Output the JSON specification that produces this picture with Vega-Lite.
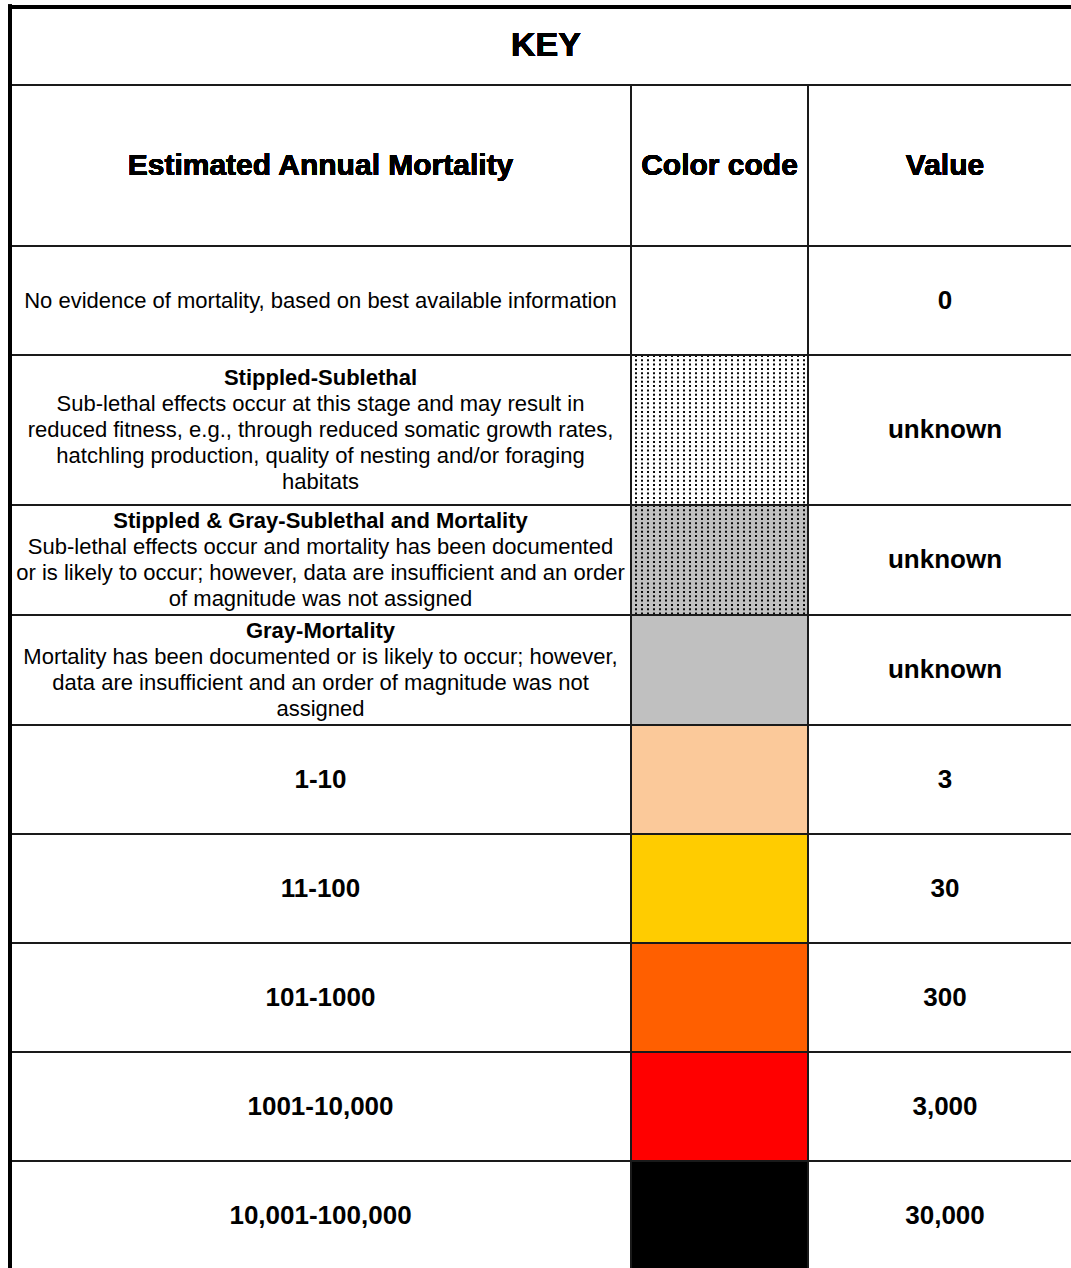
{
  "$schema": "https://vega.github.io/schema/vega-lite/v6.json",
  "width": 1071,
  "height": 1268,
  "autosize": {"type": "fit", "contains": "padding"},
  "padding": 0,
  "background": "white",
  "config": {"view": {"stroke": null}, "font": "Liberation Sans"},
  "datasets": {
    "rows": [
      {"r0": 2, "r1": 3, "rm": 2.5, "lines": 1, "code": "none", "title": "", "desc": "No evidence of mortality, based on best available information", "range": "", "value": "0"},
      {"r0": 3, "r1": 4, "rm": 3.5, "lines": 5, "code": "stippled", "title": "Stippled-Sublethal\n\n\n\n", "desc": "\nSub-lethal effects occur at this stage and may result in\nreduced fitness, e.g., through reduced somatic growth rates,\nhatchling production, quality of nesting and/or foraging\nhabitats", "range": "", "value": "unknown"},
      {"r0": 4, "r1": 5, "rm": 4.5, "lines": 4, "code": "stippled+gray", "title": "Stippled & Gray-Sublethal and Mortality\n\n\n", "desc": "\nSub-lethal effects occur and mortality has been documented\nor is likely to occur; however, data are insufficient and an order\nof magnitude was not assigned", "range": "", "value": "unknown"},
      {"r0": 5, "r1": 6, "rm": 5.5, "lines": 4, "code": "gray", "title": "Gray-Mortality\n\n\n", "desc": "\nMortality has been documented or is likely to occur; however,\ndata are insufficient and an order of magnitude was not\nassigned", "range": "", "value": "unknown"},
      {"r0": 6, "r1": 7, "rm": 6.5, "lines": 1, "code": "1-10", "title": "", "desc": "", "range": "1-10", "value": "3"},
      {"r0": 7, "r1": 8, "rm": 7.5, "lines": 1, "code": "11-100", "title": "", "desc": "", "range": "11-100", "value": "30"},
      {"r0": 8, "r1": 9, "rm": 8.5, "lines": 1, "code": "101-1000", "title": "", "desc": "", "range": "101-1000", "value": "300"},
      {"r0": 9, "r1": 10, "rm": 9.5, "lines": 1, "code": "1001-10,000", "title": "", "desc": "", "range": "1001-10,000", "value": "3,000"},
      {"r0": 10, "r1": 11, "rm": 10.5, "lines": 1, "code": "10,001-100,000", "title": "", "desc": "", "range": "10,001-100,000", "value": "30,000"}
    ]
  },
  "data": {"name": "rows"},
  "resolve": {"scale": {"x": "independent"}},
  "layer": [
    {
      "mark": {"type": "rect", "strokeWidth": 0},
      "encoding": {
        "x": {"datum": 1, "type": "quantitative", "axis": null, "scale": {"type": "linear", "domain": [0, 1, 2, 3], "range": [10, 631, 808, 1082], "nice": false, "zero": false}},
        "x2": {"datum": 2},
        "y": {"field": "r0", "type": "quantitative", "axis": null, "scale": {"type": "linear", "domain": [0, 1, 2, 3, 4, 5, 6, 7, 8, 9, 10, 11], "range": [7, 85, 246, 355, 505, 615, 725, 834, 943, 1052, 1161, 1270], "nice": false, "zero": false}},
        "y2": {"field": "r1"},
        "color": {"field": "code", "type": "nominal", "legend": null, "scale": {"domain": ["none", "stippled", "stippled+gray", "gray", "1-10", "11-100", "101-1000", "1001-10,000", "10,001-100,000"], "range": ["#ffffff", "#ffffff", "#c0c0c0", "#c0c0c0", "#fbc99a", "#ffcc00", "#ff5f00", "#ff0000", "#000000"]}}
      }
    },
    {
      "transform": [{"filter": "datum.code == 'stippled' || datum.code == 'stippled+gray'"}],
      "mark": {"type": "rule", "stroke": "#0a0a0a", "strokeWidth": 177, "strokeDash": [2, 2.3], "strokeCap": "butt"},
      "encoding": {
        "x": {"datum": 1.5, "type": "quantitative", "axis": null, "scale": {"type": "linear", "domain": [0, 1, 2, 3], "range": [10, 631, 808, 1082], "nice": false, "zero": false}},
        "y": {"field": "r0", "type": "quantitative", "axis": null},
        "y2": {"field": "r1"}
      }
    },
    {
      "transform": [{"filter": "datum.code == 'stippled'"}],
      "mark": {"type": "rule", "stroke": "#ffffff", "strokeWidth": 150, "strokeDash": [4, 2], "strokeCap": "butt"},
      "encoding": {
        "x": {"datum": 1, "type": "quantitative", "axis": null, "scale": {"type": "linear", "domain": [0, 1, 2, 3], "range": [10, 631, 808, 1082], "nice": false, "zero": false}},
        "x2": {"datum": 2},
        "y": {"field": "rm", "type": "quantitative", "axis": null}
      }
    },
    {
      "transform": [{"filter": "datum.code == 'stippled+gray'"}],
      "mark": {"type": "rule", "stroke": "#c0c0c0", "strokeWidth": 110, "strokeDash": [4, 2], "strokeCap": "butt"},
      "encoding": {
        "x": {"datum": 1, "type": "quantitative", "axis": null, "scale": {"type": "linear", "domain": [0, 1, 2, 3], "range": [10, 631, 808, 1082], "nice": false, "zero": false}},
        "x2": {"datum": 2},
        "y": {"field": "rm", "type": "quantitative", "axis": null}
      }
    },
    {
      "mark": {"type": "rule", "stroke": "#1a1a1a", "strokeWidth": 2},
      "encoding": {
        "x": {"datum": 0, "type": "quantitative", "axis": null, "scale": {"type": "linear", "domain": [0, 1, 2, 3], "range": [10, 631, 808, 1082], "nice": false, "zero": false}},
        "x2": {"datum": 3},
        "y": {"field": "r0", "type": "quantitative", "axis": null}
      }
    },
    {
      "mark": {"type": "rule", "stroke": "#1a1a1a", "strokeWidth": 2},
      "encoding": {
        "x": {"datum": 0, "type": "quantitative", "axis": null, "scale": {"type": "linear", "domain": [0, 1, 2, 3], "range": [10, 631, 808, 1082], "nice": false, "zero": false}},
        "x2": {"datum": 3},
        "y": {"datum": 1, "type": "quantitative", "axis": null}
      }
    },
    {
      "mark": {"type": "rule", "stroke": "#1a1a1a", "strokeWidth": 2},
      "encoding": {
        "x": {"datum": 1, "type": "quantitative", "axis": null, "scale": {"type": "linear", "domain": [0, 1, 2, 3], "range": [10, 631, 808, 1082], "nice": false, "zero": false}},
        "y": {"datum": 1, "type": "quantitative", "axis": null},
        "y2": {"datum": 11}
      }
    },
    {
      "mark": {"type": "rule", "stroke": "#1a1a1a", "strokeWidth": 2},
      "encoding": {
        "x": {"datum": 2, "type": "quantitative", "axis": null, "scale": {"type": "linear", "domain": [0, 1, 2, 3], "range": [10, 631, 808, 1082], "nice": false, "zero": false}},
        "y": {"datum": 1, "type": "quantitative", "axis": null},
        "y2": {"datum": 11}
      }
    },
    {
      "mark": {"type": "rule", "stroke": "#000000", "strokeWidth": 4},
      "encoding": {
        "x": {"datum": 0, "type": "quantitative", "axis": null, "scale": {"type": "linear", "domain": [0, 1, 2, 3], "range": [10, 631, 808, 1082], "nice": false, "zero": false}},
        "x2": {"datum": 3},
        "y": {"datum": 0, "type": "quantitative", "axis": null}
      }
    },
    {
      "mark": {"type": "rule", "stroke": "#000000", "strokeWidth": 4},
      "encoding": {
        "x": {"datum": 0, "type": "quantitative", "axis": null, "scale": {"type": "linear", "domain": [0, 1, 2, 3], "range": [10, 631, 808, 1082], "nice": false, "zero": false}},
        "y": {"datum": -0.03, "type": "quantitative", "axis": null},
        "y2": {"datum": 11}
      }
    },
    {
      "mark": {"type": "text", "text": "KEY", "fontSize": 34, "fontWeight": "bold", "align": "center", "baseline": "middle", "color": "#000000"},
      "encoding": {
        "x": {"datum": 0.5, "type": "quantitative", "axis": null, "scale": {"type": "linear", "domain": [0, 1], "range": [10, 1082], "nice": false, "zero": false}},
        "y": {"datum": 0.5, "type": "quantitative", "axis": null}
      }
    },
    {
      "mark": {"type": "text", "text": "Estimated Annual Mortality", "fontSize": 30, "fontWeight": "bold", "align": "center", "baseline": "middle", "color": "#000000"},
      "encoding": {
        "x": {"datum": 0.5, "type": "quantitative", "axis": null, "scale": {"type": "linear", "domain": [0, 1, 2, 3], "range": [10, 631, 808, 1082], "nice": false, "zero": false}},
        "y": {"datum": 1.5, "type": "quantitative", "axis": null}
      }
    },
    {
      "mark": {"type": "text", "text": "Color code", "fontSize": 30, "fontWeight": "bold", "align": "center", "baseline": "middle", "color": "#000000"},
      "encoding": {
        "x": {"datum": 1.5, "type": "quantitative", "axis": null, "scale": {"type": "linear", "domain": [0, 1, 2, 3], "range": [10, 631, 808, 1082], "nice": false, "zero": false}},
        "y": {"datum": 1.5, "type": "quantitative", "axis": null}
      }
    },
    {
      "mark": {"type": "text", "text": "Value", "fontSize": 30, "fontWeight": "bold", "align": "center", "baseline": "middle", "color": "#000000"},
      "encoding": {
        "x": {"datum": 2.5, "type": "quantitative", "axis": null, "scale": {"type": "linear", "domain": [0, 1, 2, 3], "range": [10, 631, 808, 1082], "nice": false, "zero": false}},
        "y": {"datum": 1.5, "type": "quantitative", "axis": null}
      }
    },
    {
      "mark": {"type": "text", "fontSize": 22, "fontWeight": "normal", "align": "center", "baseline": "middle", "lineHeight": 26, "lineBreak": "\n", "color": "#000000", "dy": {"expr": "-(datum.lines - 1) * 13"}},
      "encoding": {
        "x": {"datum": 0.5, "type": "quantitative", "axis": null, "scale": {"type": "linear", "domain": [0, 1, 2, 3], "range": [10, 631, 808, 1082], "nice": false, "zero": false}},
        "y": {"field": "rm", "type": "quantitative", "axis": null},
        "text": {"field": "desc", "type": "nominal"}
      }
    },
    {
      "mark": {"type": "text", "fontSize": 22, "fontWeight": "bold", "align": "center", "baseline": "middle", "lineHeight": 26, "lineBreak": "\n", "color": "#000000", "dy": {"expr": "-(datum.lines - 1) * 13"}},
      "encoding": {
        "x": {"datum": 0.5, "type": "quantitative", "axis": null, "scale": {"type": "linear", "domain": [0, 1, 2, 3], "range": [10, 631, 808, 1082], "nice": false, "zero": false}},
        "y": {"field": "rm", "type": "quantitative", "axis": null},
        "text": {"field": "title", "type": "nominal"}
      }
    },
    {
      "mark": {"type": "text", "fontSize": 26, "fontWeight": "bold", "align": "center", "baseline": "middle", "color": "#000000"},
      "encoding": {
        "x": {"datum": 0.5, "type": "quantitative", "axis": null, "scale": {"type": "linear", "domain": [0, 1, 2, 3], "range": [10, 631, 808, 1082], "nice": false, "zero": false}},
        "y": {"field": "rm", "type": "quantitative", "axis": null},
        "text": {"field": "range", "type": "nominal"}
      }
    },
    {
      "mark": {"type": "text", "fontSize": 26, "fontWeight": "bold", "align": "center", "baseline": "middle", "color": "#000000"},
      "encoding": {
        "x": {"datum": 2.5, "type": "quantitative", "axis": null, "scale": {"type": "linear", "domain": [0, 1, 2, 3], "range": [10, 631, 808, 1082], "nice": false, "zero": false}},
        "y": {"field": "rm", "type": "quantitative", "axis": null},
        "text": {"field": "value", "type": "nominal"}
      }
    }
  ]
}
